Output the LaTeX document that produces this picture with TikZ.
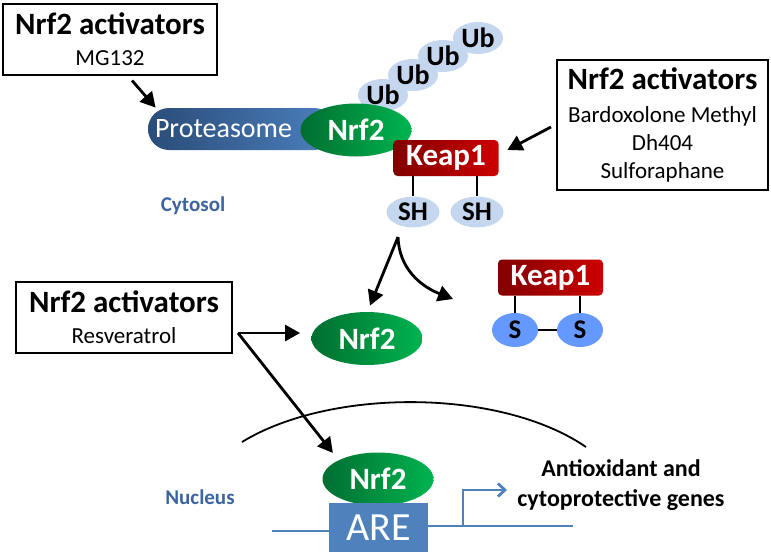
\documentclass[tikz,border=0pt]{standalone}
\usepackage{fontspec}
\setmainfont{Carlito}
\usetikzlibrary{calc, shapes.geometric, arrows.meta}

\definecolor{nrfdark}{RGB}{0,110,48}
\definecolor{nrflight}{RGB}{0,180,80}
\definecolor{keapdark}{RGB}{130,0,0}
\definecolor{keaplight}{RGB}{205,0,0}
\definecolor{protdark}{RGB}{42,76,120}
\definecolor{protlight}{RGB}{76,128,190}
\definecolor{ublue}{RGB}{197,215,238}
\definecolor{sblue}{RGB}{102,153,255}
\definecolor{areblue}{RGB}{79,129,189}
\definecolor{placeblue}{RGB}{59,100,160}

\newcommand{\acttitle}[1]{{\fontsize{31}{34}\selectfont\bfseries #1}}

\begin{document}
\begin{tikzpicture}[x=1pt, y=-1pt, thick]
    \tikzset{
      actbox/.style={draw, line width=2pt, align=center, inner sep=0pt, font=\fontsize{23}{28}\selectfont},
      protein/.style={ellipse, inner sep=0pt, minimum width=111pt, minimum height=53pt, left color=nrfdark, right color=nrflight, text=white, font=\fontsize{31}{31}\selectfont\bfseries},
      keapbox/.style={rectangle, rounded corners=4pt, inner sep=0pt, minimum width=105pt, minimum height=36pt, left color=keapdark, right color=keaplight, text=white, font=\fontsize{31}{31}\selectfont\bfseries},
      ubq/.style={ellipse, fill=ublue, inner sep=0pt, minimum width=50pt, minimum height=32pt, font=\fontsize{28}{28}\selectfont\bfseries},
      thiol/.style={ellipse, fill=ublue, inner sep=0pt, minimum width=53pt, minimum height=31pt, font=\fontsize{27}{27}\selectfont\bfseries},
      sulfur/.style={ellipse, fill=sblue, inner sep=0pt, minimum width=46pt, minimum height=34pt, font=\fontsize{27}{27}\selectfont\bfseries},
      prot/.style={rectangle, rounded corners=21pt, minimum width=187pt, minimum height=42pt, text width=173pt, align=left, inner xsep=7pt, inner ysep=0pt, left color=protdark, right color=protlight, text=white, font=\fontsize{28}{28}\selectfont},
      place/.style={text=placeblue, font=\fontsize{21}{21}\selectfont\bfseries},
      arr/.style={line width=2.8pt, -{Triangle[length=15pt, width=16pt]}},
      dna/.style={line width=2.8pt, draw=areblue},
      link/.style={line width=1.4pt},
    }
    \useasboundingbox (0,0) rectangle (771,554);

    % cytosol
    \foreach \i/\pos in {1/{(383,95)}, 2/{(413,75)}, 3/{(443,56)}, 4/{(478,38)}}
      \node [ubq] (ub\i) at \pos {Ub};
    \node [prot] (prot) at (241.5,129) {Proteasome};
    \node [protein] (nrfc) at (356,130) {Nrf2};
    \node [keapbox] (keapc) at (446,158) {Keap1};
    \node [thiol] (sh1) at (413,212) {SH};
    \node [thiol] (sh2) at (477,212) {SH};
    \foreach \s in {sh1,sh2}
      \draw [link] (keapc.south -| \s.north) -- (\s.north);

    \node [actbox, minimum width=214pt, minimum height=71pt] (mgbox) at (110,39) {\acttitle{Nrf2 activators}\\[3pt]MG132};
    \draw [arr] ($(mgbox.south)+(22,5)$) -- ($(prot.north west)+(8,0)$);

    \node [actbox, minimum width=211pt, minimum height=130pt] (sbox) at (662.5,125) {\acttitle{Nrf2 activators}\\[5pt]Bardoxolone Methyl\\Dh404\\Sulforaphane};
    \draw [arr] ($(sbox.west)+(-5,2)$) -- ($(keapc.east)+(8.5,-8)$);

    \node [place] (cyto) at (193,206) {Cytosol};

    % release of Nrf2
    \node [protein] (nrfm) at (367,338.5) {Nrf2};
    \node [keapbox] (keapl) at (550.5,277.5) {Keap1};
    \node [sulfur] (s1) at (515,330) {S};
    \node [sulfur] (s2) at (580,330) {S};
    \foreach \s in {s1,s2}
      \draw [link] (keapl.south -| \s.north) -- (\s.north);
    \draw [link] (s1) -- (s2);

    \coordinate (split) at (398,237);
    \coordinate (free) at (453,299);
    \draw [arr] (split) -- ($(nrfm.north)+(3,-6)$);
    \draw [arr] (split) .. controls (399,268) and (420,286) .. (free);

    \node [actbox, minimum width=216pt, minimum height=71pt] (rbox) at (124,317.5) {\acttitle{Nrf2 activators}\\[3pt]Resveratrol};

    % nucleus
    \draw [line width=1.8pt] (242,442) .. controls (330,388) and (500,388) .. (586,447);
    \node [place] (nuc) at (200,497) {Nucleus};
    \node [protein] (nrfn) at (378,479) {Nrf2};
    \node [rectangle, fill=areblue, inner sep=0pt, minimum width=99pt, minimum height=49pt, text=white, font=\fontsize{40}{40}\selectfont] (are) at (378.5,527.5) {ARE};

    \coordinate (fork) at ($(rbox.east)+(5,15.5)$);
    \draw [arr, shorten >=11pt] (fork) -- (fork -| nrfm.west);
    \draw [arr, shorten >=9pt] (fork) -- (nrfn.north west);

    \coordinate (dnal) at (272,531);
    \coordinate (dnar) at (573,526);
    \coordinate (tss) at (463,526.5);
    \coordinate (txend) at (507,490);
    \draw [dna] (dnal) -- (dnal -| are.west);
    \draw [dna] (dnar -| are.east) -- (dnar);
    \draw [dna, -{Straight Barb[length=7pt, width=13pt]}] (tss) |- (txend);
    \node [align=center, font=\fontsize{24}{30}\selectfont\bfseries] (genes) at (621,485) {Antioxidant and\\cytoprotective genes};
\end{tikzpicture}
\end{document}
